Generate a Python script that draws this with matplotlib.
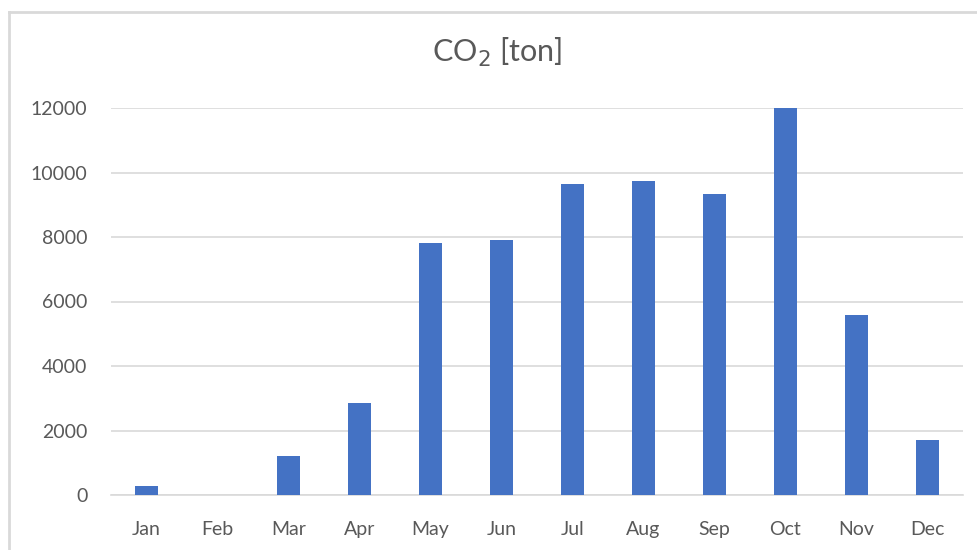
import matplotlib
matplotlib.use("Agg")
import matplotlib.pyplot as plt
from matplotlib.lines import Line2D

# data
months = ['Jan', 'Feb', 'Mar', 'Apr', 'May', 'Jun',
          'Jul', 'Aug', 'Sep', 'Oct', 'Nov', 'Dec']
co2_ton = [280, 0, 1200, 2850, 7815, 7900,
           9650, 9730, 9320, 12000, 5590, 1690]
y_ticks = [0, 2000, 4000, 6000, 8000, 10000, 12000]

W, H = 978, 550
plt.rcParams['font.family'] = ['Lato', 'DejaVu Sans']

fig = plt.figure(figsize=(W / 100, H / 100), dpi=100)
fig.patch.set_facecolor('white')

# plot area in pixel terms of the reference
left, right, top, bottom = 111, 963, 108, 495
ax = fig.add_axes([left / W, 1 - bottom / H, (right - left) / W, (bottom - top) / H])

x = range(len(months))
ax.bar(x, co2_ton, width=0.313, color='#4472C4', zorder=3, clip_on=False)

ax.set_xlim(-0.5, len(months) - 0.5)
ax.set_ylim(0, 12000)
ax.set_yticks(y_ticks)
ax.set_yticklabels([str(v) for v in y_ticks])
ax.set_xticks(list(x))
ax.set_xticklabels(months)

ax.grid(axis='y', color='#d9d9d9', linewidth=1.2, zorder=0)
for side in ['top', 'right', 'left']:
    ax.spines[side].set_visible(False)
ax.spines['bottom'].set_color('#d9d9d9')
ax.spines['bottom'].set_linewidth(1.2)
ax.spines['bottom'].set_zorder(2)

ax.tick_params(axis='both', length=0, labelsize=14, labelcolor='#595959')
ax.tick_params(axis='y', pad=17)
ax.tick_params(axis='x', pad=19)

fig.text(0.508, 1 - 52 / H, 'CO$_2$ [ton]', ha='center', va='center',
         fontsize=22, color='#595959')

# chart frame (only top and left edges fall inside the picture)
fig.add_artist(Line2D([9 / W, 1], [1 - 12 / H, 1 - 12 / H], color='#d9d9d9',
                      linewidth=2, transform=fig.transFigure))
fig.add_artist(Line2D([9 / W, 9 / W], [0, 1 - 12 / H], color='#d9d9d9',
                      linewidth=2, transform=fig.transFigure))

fig.savefig('out.png', dpi=100, facecolor='white')
